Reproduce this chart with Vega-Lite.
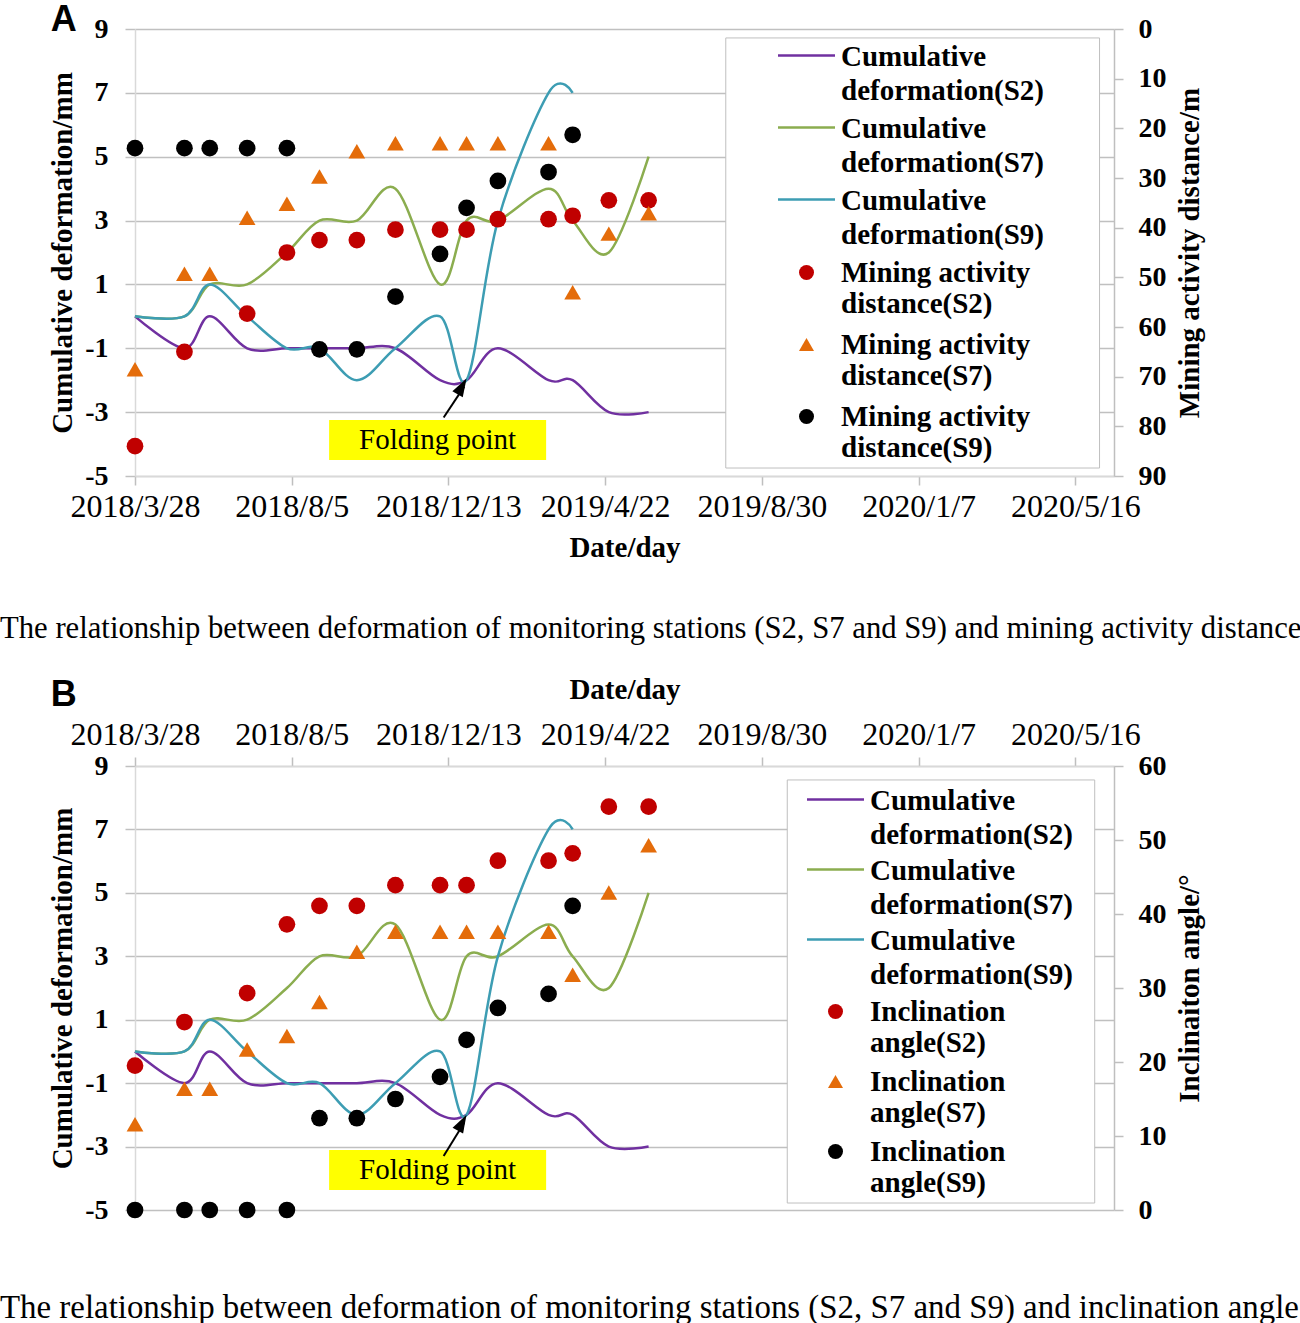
{
  "$schema": "https://vega.github.io/schema/vega-lite/v6.json",
  "padding": {"left": 0, "top": 1, "right": 0, "bottom": 0},
  "config": {"font": "Liberation Serif", "view": {"stroke": null}},
  "datasets": {
    "lines": [
      {"date": "2018/03/28", "series": "Cumulative deformation(S2)", "v": 0},
      {"date": "2018/05/08", "series": "Cumulative deformation(S2)", "v": -1},
      {"date": "2018/05/29", "series": "Cumulative deformation(S2)", "v": 0},
      {"date": "2018/06/29", "series": "Cumulative deformation(S2)", "v": -1},
      {"date": "2018/08/01", "series": "Cumulative deformation(S2)", "v": -1},
      {"date": "2018/08/28", "series": "Cumulative deformation(S2)", "v": -1},
      {"date": "2018/09/28", "series": "Cumulative deformation(S2)", "v": -1},
      {"date": "2018/10/30", "series": "Cumulative deformation(S2)", "v": -1},
      {"date": "2018/12/06", "series": "Cumulative deformation(S2)", "v": -2},
      {"date": "2018/12/28", "series": "Cumulative deformation(S2)", "v": -2},
      {"date": "2019/01/23", "series": "Cumulative deformation(S2)", "v": -1},
      {"date": "2019/03/06", "series": "Cumulative deformation(S2)", "v": -2},
      {"date": "2019/03/26", "series": "Cumulative deformation(S2)", "v": -2},
      {"date": "2019/04/25", "series": "Cumulative deformation(S2)", "v": -3},
      {"date": "2019/05/28", "series": "Cumulative deformation(S2)", "v": -3},
      {"date": "2018/03/28", "series": "Cumulative deformation(S7)", "v": 0},
      {"date": "2018/05/08", "series": "Cumulative deformation(S7)", "v": 0},
      {"date": "2018/05/29", "series": "Cumulative deformation(S7)", "v": 1},
      {"date": "2018/06/29", "series": "Cumulative deformation(S7)", "v": 1},
      {"date": "2018/08/01", "series": "Cumulative deformation(S7)", "v": 2},
      {"date": "2018/08/28", "series": "Cumulative deformation(S7)", "v": 3},
      {"date": "2018/09/28", "series": "Cumulative deformation(S7)", "v": 3},
      {"date": "2018/10/30", "series": "Cumulative deformation(S7)", "v": 4},
      {"date": "2018/12/06", "series": "Cumulative deformation(S7)", "v": 1},
      {"date": "2018/12/28", "series": "Cumulative deformation(S7)", "v": 3},
      {"date": "2019/01/23", "series": "Cumulative deformation(S7)", "v": 3},
      {"date": "2019/03/06", "series": "Cumulative deformation(S7)", "v": 4},
      {"date": "2019/03/26", "series": "Cumulative deformation(S7)", "v": 3},
      {"date": "2019/04/25", "series": "Cumulative deformation(S7)", "v": 2},
      {"date": "2019/05/28", "series": "Cumulative deformation(S7)", "v": 5},
      {"date": "2018/03/28", "series": "Cumulative deformation(S9)", "v": 0},
      {"date": "2018/05/08", "series": "Cumulative deformation(S9)", "v": 0},
      {"date": "2018/05/29", "series": "Cumulative deformation(S9)", "v": 1},
      {"date": "2018/06/29", "series": "Cumulative deformation(S9)", "v": 0},
      {"date": "2018/08/01", "series": "Cumulative deformation(S9)", "v": -1},
      {"date": "2018/08/28", "series": "Cumulative deformation(S9)", "v": -1},
      {"date": "2018/09/28", "series": "Cumulative deformation(S9)", "v": -2},
      {"date": "2018/10/30", "series": "Cumulative deformation(S9)", "v": -1},
      {"date": "2018/12/06", "series": "Cumulative deformation(S9)", "v": 0},
      {"date": "2018/12/28", "series": "Cumulative deformation(S9)", "v": -2},
      {"date": "2019/01/23", "series": "Cumulative deformation(S9)", "v": 3},
      {"date": "2019/03/06", "series": "Cumulative deformation(S9)", "v": 7},
      {"date": "2019/03/26", "series": "Cumulative deformation(S9)", "v": 7}
    ],
    "dist": [
      {"date": "2018/03/28", "series": "Mining activity distance(S2)", "d": 84},
      {"date": "2018/05/08", "series": "Mining activity distance(S2)", "d": 65},
      {"date": "2018/06/29", "series": "Mining activity distance(S2)", "d": 57.3},
      {"date": "2018/08/01", "series": "Mining activity distance(S2)", "d": 45},
      {"date": "2018/08/28", "series": "Mining activity distance(S2)", "d": 42.5},
      {"date": "2018/09/28", "series": "Mining activity distance(S2)", "d": 42.5},
      {"date": "2018/10/30", "series": "Mining activity distance(S2)", "d": 40.4},
      {"date": "2018/12/06", "series": "Mining activity distance(S2)", "d": 40.4},
      {"date": "2018/12/28", "series": "Mining activity distance(S2)", "d": 40.4},
      {"date": "2019/01/23", "series": "Mining activity distance(S2)", "d": 38.3},
      {"date": "2019/03/06", "series": "Mining activity distance(S2)", "d": 38.3},
      {"date": "2019/03/26", "series": "Mining activity distance(S2)", "d": 37.6},
      {"date": "2019/04/25", "series": "Mining activity distance(S2)", "d": 34.5},
      {"date": "2019/05/28", "series": "Mining activity distance(S2)", "d": 34.5},
      {"date": "2018/03/28", "series": "Mining activity distance(S7)", "d": 68.5},
      {"date": "2018/05/08", "series": "Mining activity distance(S7)", "d": 49.3},
      {"date": "2018/05/29", "series": "Mining activity distance(S7)", "d": 49.3},
      {"date": "2018/06/29", "series": "Mining activity distance(S7)", "d": 38},
      {"date": "2018/08/01", "series": "Mining activity distance(S7)", "d": 35.2},
      {"date": "2018/08/28", "series": "Mining activity distance(S7)", "d": 29.7},
      {"date": "2018/09/28", "series": "Mining activity distance(S7)", "d": 24.6},
      {"date": "2018/10/30", "series": "Mining activity distance(S7)", "d": 23},
      {"date": "2018/12/06", "series": "Mining activity distance(S7)", "d": 23},
      {"date": "2018/12/28", "series": "Mining activity distance(S7)", "d": 23},
      {"date": "2019/01/23", "series": "Mining activity distance(S7)", "d": 23},
      {"date": "2019/03/06", "series": "Mining activity distance(S7)", "d": 23},
      {"date": "2019/03/26", "series": "Mining activity distance(S7)", "d": 53},
      {"date": "2019/04/25", "series": "Mining activity distance(S7)", "d": 41.2},
      {"date": "2019/05/28", "series": "Mining activity distance(S7)", "d": 37.1},
      {"date": "2018/03/28", "series": "Mining activity distance(S9)", "d": 24},
      {"date": "2018/05/08", "series": "Mining activity distance(S9)", "d": 24},
      {"date": "2018/05/29", "series": "Mining activity distance(S9)", "d": 24},
      {"date": "2018/06/29", "series": "Mining activity distance(S9)", "d": 24},
      {"date": "2018/08/01", "series": "Mining activity distance(S9)", "d": 24},
      {"date": "2018/08/28", "series": "Mining activity distance(S9)", "d": 64.5},
      {"date": "2018/09/28", "series": "Mining activity distance(S9)", "d": 64.5},
      {"date": "2018/10/30", "series": "Mining activity distance(S9)", "d": 53.9},
      {"date": "2018/12/06", "series": "Mining activity distance(S9)", "d": 45.3},
      {"date": "2018/12/28", "series": "Mining activity distance(S9)", "d": 36},
      {"date": "2019/01/23", "series": "Mining activity distance(S9)", "d": 30.6},
      {"date": "2019/03/06", "series": "Mining activity distance(S9)", "d": 28.8},
      {"date": "2019/03/26", "series": "Mining activity distance(S9)", "d": 21.3}
    ],
    "angle": [
      {"date": "2018/03/28", "series": "Inclination angle(S2)", "a": 19.5},
      {"date": "2018/05/08", "series": "Inclination angle(S2)", "a": 25.4},
      {"date": "2018/06/29", "series": "Inclination angle(S2)", "a": 29.3},
      {"date": "2018/08/01", "series": "Inclination angle(S2)", "a": 38.6},
      {"date": "2018/08/28", "series": "Inclination angle(S2)", "a": 41.1},
      {"date": "2018/09/28", "series": "Inclination angle(S2)", "a": 41.1},
      {"date": "2018/10/30", "series": "Inclination angle(S2)", "a": 43.9},
      {"date": "2018/12/06", "series": "Inclination angle(S2)", "a": 43.9},
      {"date": "2018/12/28", "series": "Inclination angle(S2)", "a": 43.9},
      {"date": "2019/01/23", "series": "Inclination angle(S2)", "a": 47.2},
      {"date": "2019/03/06", "series": "Inclination angle(S2)", "a": 47.2},
      {"date": "2019/03/26", "series": "Inclination angle(S2)", "a": 48.2},
      {"date": "2019/04/25", "series": "Inclination angle(S2)", "a": 54.5},
      {"date": "2019/05/28", "series": "Inclination angle(S2)", "a": 54.5},
      {"date": "2018/03/28", "series": "Inclination angle(S7)", "a": 11.6},
      {"date": "2018/05/08", "series": "Inclination angle(S7)", "a": 16.4},
      {"date": "2018/05/29", "series": "Inclination angle(S7)", "a": 16.4},
      {"date": "2018/06/29", "series": "Inclination angle(S7)", "a": 21.7},
      {"date": "2018/08/01", "series": "Inclination angle(S7)", "a": 23.5},
      {"date": "2018/08/28", "series": "Inclination angle(S7)", "a": 28.1},
      {"date": "2018/09/28", "series": "Inclination angle(S7)", "a": 34.9},
      {"date": "2018/10/30", "series": "Inclination angle(S7)", "a": 37.6},
      {"date": "2018/12/06", "series": "Inclination angle(S7)", "a": 37.6},
      {"date": "2018/12/28", "series": "Inclination angle(S7)", "a": 37.6},
      {"date": "2019/01/23", "series": "Inclination angle(S7)", "a": 37.6},
      {"date": "2019/03/06", "series": "Inclination angle(S7)", "a": 37.6},
      {"date": "2019/03/26", "series": "Inclination angle(S7)", "a": 31.8},
      {"date": "2019/04/25", "series": "Inclination angle(S7)", "a": 42.9},
      {"date": "2019/05/28", "series": "Inclination angle(S7)", "a": 49.3},
      {"date": "2018/03/28", "series": "Inclination angle(S9)", "a": 0},
      {"date": "2018/05/08", "series": "Inclination angle(S9)", "a": 0},
      {"date": "2018/05/29", "series": "Inclination angle(S9)", "a": 0},
      {"date": "2018/06/29", "series": "Inclination angle(S9)", "a": 0},
      {"date": "2018/08/01", "series": "Inclination angle(S9)", "a": 0},
      {"date": "2018/08/28", "series": "Inclination angle(S9)", "a": 12.4},
      {"date": "2018/09/28", "series": "Inclination angle(S9)", "a": 12.4},
      {"date": "2018/10/30", "series": "Inclination angle(S9)", "a": 15.0},
      {"date": "2018/12/06", "series": "Inclination angle(S9)", "a": 18.0},
      {"date": "2018/12/28", "series": "Inclination angle(S9)", "a": 23.0},
      {"date": "2019/01/23", "series": "Inclination angle(S9)", "a": 27.3},
      {"date": "2019/03/06", "series": "Inclination angle(S9)", "a": 29.2},
      {"date": "2019/03/26", "series": "Inclination angle(S9)", "a": 41.1}
    ]
  },
  "spacing": 31,
  "resolve": {"scale": {"color": "independent", "fill": "independent", "shape": "independent"}, "legend": {"color": "independent", "fill": "independent", "shape": "independent"}},
  "vconcat": [
    {
      "width": 979,
      "height": 447,
      "title": {"text": "The relationship between deformation of monitoring stations (S2, S7 and S9) and mining activity distance", "orient": "bottom", "anchor": "start", "frame": "group", "baseline": "top", "offset": 52, "dx": -135, "font": "Liberation Serif", "fontSize": 30.7, "fontWeight": "normal", "color": "#000000"},
      "resolve": {"scale": {"y": "independent"}},
      "layer": [
        {
          "data": {"values": [{}]},
          "mark": {"type": "rect", "fill": "#FFFFFF", "stroke": "#BFBFBF", "strokeWidth": 1},
          "encoding": {
            "x": {"datum": {"year": 2019, "month": 7, "date": 31}, "type": "temporal"},
            "x2": {"datum": {"year": 2020, "month": 6, "date": 5}},
            "y": {"datum": 8.72, "type": "quantitative", "scale": {"domain": [-5, 9], "nice": false, "zero": false}, "axis": null},
            "y2": {"datum": -4.75}
          }
        },
        {
          "data": {"name": "lines"},
          "mark": {"type": "line", "interpolate": "cardinal", "strokeWidth": 2.5},
          "encoding": {
            "x": {"field": "date", "type": "temporal", "title": "Date/day",
              "scale": {"domain": [{"year": 2018, "month": 3, "date": 28}, {"year": 2020, "month": 6, "date": 17}], "nice": false},
              "axis": {"orient": "bottom", "values": [{"year": 2018, "month": 3, "date": 28}, {"year": 2018, "month": 8, "date": 5}, {"year": 2018, "month": 12, "date": 13}, {"year": 2019, "month": 4, "date": 22}, {"year": 2019, "month": 8, "date": 30}, {"year": 2020, "month": 1, "date": 7}, {"year": 2020, "month": 5, "date": 16}],
                "format": "%Y/%-m/%-d", "grid": false, "labelFont": "Liberation Serif", "labelFontSize": 32, "labelFontWeight": "normal", "labelColor": "#000000", "labelPadding": 6, "labelOverlap": false, "labelFlush": false,
                "tickSize": 9, "tickColor": "#BFBFBF", "tickWidth": 1.5, "domainColor": "#D9D9D9", "domainWidth": 1.5,
                "titleFont": "Liberation Serif", "titleFontSize": 29, "titleFontWeight": "bold", "titleColor": "#000000", "titlePadding": 11}},
            "y": {"field": "v", "type": "quantitative", "title": "Cumulative deformation/mm",
              "scale": {"domain": [-5, 9], "nice": false, "zero": false},
              "axis": {"orient": "left", "values": [-5, -3, -1, 1, 3, 5, 7, 9], "labelExpr": "'' + datum.value", "grid": true, "gridColor": "#C0C0C0", "gridWidth": 1.5,
                "domainColor": "#D9D9D9", "domainWidth": 1.5, "tickColor": "#C0C0C0", "tickSize": 10, "tickWidth": 1.5,
                "labelFont": "Liberation Serif", "labelFontWeight": "bold", "labelFontSize": 28, "labelColor": "#000000", "labelPadding": 17,
                "titleFont": "Liberation Serif", "titleFontWeight": "bold", "titleFontSize": 29, "titleColor": "#000000", "titlePadding": 7}},
            "color": {"field": "series", "type": "nominal",
              "scale": {"domain": ["Cumulative deformation(S2)", "Cumulative deformation(S7)", "Cumulative deformation(S9)"], "range": ["#7030A0", "#8BAD4F", "#3D9DB3"]},
              "legend": {"title": null, "orient": "none", "legendX": 657, "legendY": 12, "padding": 0, "symbolType": "M-3,0L3,0", "symbolSize": 361, "symbolStrokeWidth": 2.5,
                "labelFont": "Liberation Serif", "labelFontWeight": "bold", "labelFontSize": 29, "labelColor": "#000000", "labelLimit": 600, "labelOffset": 20, "labelBaseline": "top", "rowPadding": 7,
                "labelExpr": "[substring(datum.label,0,lastindexof(datum.label,' ')), substring(datum.label,lastindexof(datum.label,' ')+1)]",
                "encode": {"labels": {"update": {"dy": {"value": -13}, "lineHeight": {"value": 34}}}}}}
          }
        },
        {
          "data": {"name": "dist"},
          "mark": {"type": "point", "filled": true, "opacity": 1, "size": 280},
          "encoding": {
            "x": {"field": "date", "type": "temporal"},
            "y": {"field": "d", "type": "quantitative", "title": "Mining activity distance/m",
              "scale": {"domain": [0, 90], "reverse": true, "nice": false, "zero": false},
              "axis": {"orient": "right", "values": [0, 10, 20, 30, 40, 50, 60, 70, 80, 90], "grid": false,
                "domainColor": "#BFBFBF", "domainWidth": 1.5, "tickColor": "#BFBFBF", "tickSize": 9, "tickWidth": 1.5,
                "labelFont": "Liberation Serif", "labelFontWeight": "bold", "labelFontSize": 28, "labelColor": "#000000", "labelPadding": 15,
                "titleFont": "Liberation Serif", "titleFontWeight": "bold", "titleFontSize": 29, "titleColor": "#000000", "titlePadding": 9, "titleAngle": 270, "titleBaseline": "top"}},
            "fill": {"field": "series", "type": "nominal",
              "scale": {"domain": ["Mining activity distance(S2)", "Mining activity distance(S7)", "Mining activity distance(S9)"], "range": ["#C00000", "#E46C0A", "#000000"]},
              "legend": {"title": null, "orient": "none", "legendX": 657, "legendY": 229, "padding": 0, "symbolSize": 225,
                "labelFont": "Liberation Serif", "labelFontWeight": "bold", "labelFontSize": 29, "labelColor": "#000000", "labelLimit": 600, "labelOffset": 20, "labelBaseline": "middle", "rowPadding": 11,
                "labelExpr": "[substring(datum.label,0,lastindexof(datum.label,' ')), substring(datum.label,lastindexof(datum.label,' ')+1)]"}},
            "shape": {"field": "series", "type": "nominal",
              "scale": {"domain": ["Mining activity distance(S2)", "Mining activity distance(S7)", "Mining activity distance(S9)"], "range": ["circle", "triangle-up", "circle"]},
              "legend": {"title": null, "orient": "none", "legendX": 657, "legendY": 229, "padding": 0, "symbolSize": 225,
                "labelFont": "Liberation Serif", "labelFontWeight": "bold", "labelFontSize": 29, "labelColor": "#000000", "labelLimit": 600, "labelOffset": 20, "labelBaseline": "middle", "rowPadding": 11,
                "labelExpr": "[substring(datum.label,0,lastindexof(datum.label,' ')), substring(datum.label,lastindexof(datum.label,' ')+1)]"}}
          }
        },
        {
          "data": {"values": [{}]},
          "mark": {"type": "rect", "fill": "#FFFF00"},
          "encoding": {
            "x": {"datum": {"year": 2018, "month": 9, "date": 5}, "type": "temporal"},
            "x2": {"datum": {"year": 2019, "month": 3, "date": 4}},
            "y": {"datum": -3.245, "type": "quantitative", "scale": {"domain": [-5, 9], "nice": false, "zero": false}, "axis": null},
            "y2": {"datum": -4.498}
          }
        },
        {
          "data": {"values": [{}]},
          "mark": {"type": "text", "text": "Folding point", "font": "Liberation Serif", "fontSize": 29, "color": "#000000", "align": "center", "baseline": "middle"},
          "encoding": {
            "x": {"datum": {"year": 2018, "month": 12, "date": 4}, "type": "temporal"},
            "y": {"datum": -3.87, "type": "quantitative", "scale": {"domain": [-5, 9], "nice": false, "zero": false}, "axis": null}
          }
        },
        {
          "data": {"values": [{}]},
          "mark": {"type": "rule", "color": "#000000", "strokeWidth": 2},
          "encoding": {
            "x": {"datum": {"year": 2018, "month": 12, "date": 9}, "type": "temporal"},
            "x2": {"datum": {"year": 2018, "month": 12, "date": 26}},
            "y": {"datum": -3.17, "type": "quantitative", "scale": {"domain": [-5, 9], "nice": false, "zero": false}, "axis": null},
            "y2": {"datum": -2.2}
          }
        },
        {
          "data": {"values": [{}]},
          "mark": {"type": "point", "shape": "M0,0L-0.6,1.8L0.6,1.8Z", "size": 400, "angle": 30, "filled": true, "color": "#000000", "opacity": 1},
          "encoding": {
            "x": {"datum": {"year": 2018, "month": 12, "date": 28}, "type": "temporal"},
            "y": {"datum": -1.95, "type": "quantitative", "scale": {"domain": [-5, 9], "nice": false, "zero": false}, "axis": null}
          }
        },
        {
          "data": {"values": [{}]},
          "mark": {"type": "text", "text": "A", "font": "Liberation Sans", "fontWeight": "bold", "fontSize": 36, "color": "#000000", "align": "center", "baseline": "alphabetic"},
          "encoding": {
            "x": {"datum": {"year": 2018, "month": 1, "date": 28}, "type": "temporal"},
            "y": {"datum": 8.95, "type": "quantitative", "scale": {"domain": [-5, 9], "nice": false, "zero": false}, "axis": null}
          }
        }
      ]
    },
    {
      "width": 979,
      "height": 444,
      "title": {"text": "The relationship between deformation of monitoring stations (S2, S7 and S9) and inclination angle", "orient": "bottom", "anchor": "start", "frame": "group", "baseline": "top", "offset": 68, "dx": -135, "font": "Liberation Serif", "fontSize": 32.9, "fontWeight": "normal", "color": "#000000"},
      "resolve": {"scale": {"y": "independent"}},
      "layer": [
        {
          "data": {"values": [{}]},
          "mark": {"type": "rect", "fill": "#FFFFFF", "stroke": "#BFBFBF", "strokeWidth": 1},
          "encoding": {
            "x": {"datum": {"year": 2019, "month": 9, "date": 20}, "type": "temporal"},
            "x2": {"datum": {"year": 2020, "month": 6, "date": 1}},
            "y": {"datum": 8.56, "type": "quantitative", "scale": {"domain": [-5, 9], "nice": false, "zero": false}, "axis": null},
            "y2": {"datum": -4.78}
          }
        },
        {
          "data": {"name": "lines"},
          "mark": {"type": "line", "interpolate": "cardinal", "strokeWidth": 2.5},
          "encoding": {
            "x": {"field": "date", "type": "temporal", "title": "Date/day",
              "scale": {"domain": [{"year": 2018, "month": 3, "date": 28}, {"year": 2020, "month": 6, "date": 17}], "nice": false},
              "axis": {"orient": "top", "values": [{"year": 2018, "month": 3, "date": 28}, {"year": 2018, "month": 8, "date": 5}, {"year": 2018, "month": 12, "date": 13}, {"year": 2019, "month": 4, "date": 22}, {"year": 2019, "month": 8, "date": 30}, {"year": 2020, "month": 1, "date": 7}, {"year": 2020, "month": 5, "date": 16}],
                "format": "%Y/%-m/%-d", "grid": false, "labelFont": "Liberation Serif", "labelFontSize": 32, "labelFontWeight": "normal", "labelColor": "#000000", "labelPadding": 6, "labelOverlap": false, "labelFlush": false,
                "tickSize": 9, "tickColor": "#BFBFBF", "tickWidth": 1.5, "domainColor": "#D9D9D9", "domainWidth": 1.5,
                "titleFont": "Liberation Serif", "titleFontSize": 29, "titleFontWeight": "bold", "titleColor": "#000000", "titlePadding": 14}},
            "y": {"field": "v", "type": "quantitative", "title": "Cumulative deformation/mm",
              "scale": {"domain": [-5, 9], "nice": false, "zero": false},
              "axis": {"orient": "left", "values": [-5, -3, -1, 1, 3, 5, 7, 9], "labelExpr": "'' + datum.value", "grid": true, "gridColor": "#C0C0C0", "gridWidth": 1.5,
                "domainColor": "#D9D9D9", "domainWidth": 1.5, "tickColor": "#C0C0C0", "tickSize": 10, "tickWidth": 1.5,
                "labelFont": "Liberation Serif", "labelFontWeight": "bold", "labelFontSize": 28, "labelColor": "#000000", "labelPadding": 17,
                "titleFont": "Liberation Serif", "titleFontWeight": "bold", "titleFontSize": 29, "titleColor": "#000000", "titlePadding": 7}},
            "color": {"field": "series", "type": "nominal",
              "scale": {"domain": ["Cumulative deformation(S2)", "Cumulative deformation(S7)", "Cumulative deformation(S9)"], "range": ["#7030A0", "#8BAD4F", "#3D9DB3"]},
              "legend": {"title": null, "orient": "none", "legendX": 686, "legendY": 19, "padding": 0, "symbolType": "M-3,0L3,0", "symbolSize": 361, "symbolStrokeWidth": 2.5,
                "labelFont": "Liberation Serif", "labelFontWeight": "bold", "labelFontSize": 29, "labelColor": "#000000", "labelLimit": 600, "labelOffset": 20, "labelBaseline": "top", "rowPadding": 5,
                "labelExpr": "[substring(datum.label,0,lastindexof(datum.label,' ')), substring(datum.label,lastindexof(datum.label,' ')+1)]",
                "encode": {"labels": {"update": {"dy": {"value": -13}, "lineHeight": {"value": 34}}}}}}
          }
        },
        {
          "data": {"name": "angle"},
          "mark": {"type": "point", "filled": true, "opacity": 1, "size": 280},
          "encoding": {
            "x": {"field": "date", "type": "temporal"},
            "y": {"field": "a", "type": "quantitative", "title": "Inclinaiton angle/°",
              "scale": {"domain": [0, 60], "nice": false, "zero": false},
              "axis": {"orient": "right", "values": [0, 10, 20, 30, 40, 50, 60], "grid": false,
                "domainColor": "#BFBFBF", "domainWidth": 1.5, "tickColor": "#BFBFBF", "tickSize": 9, "tickWidth": 1.5,
                "labelFont": "Liberation Serif", "labelFontWeight": "bold", "labelFontSize": 28, "labelColor": "#000000", "labelPadding": 15,
                "titleFont": "Liberation Serif", "titleFontWeight": "bold", "titleFontSize": 29, "titleColor": "#000000", "titlePadding": 9, "titleAngle": 270, "titleBaseline": "top"}},
            "fill": {"field": "series", "type": "nominal",
              "scale": {"domain": ["Inclination angle(S2)", "Inclination angle(S7)", "Inclination angle(S9)"], "range": ["#C00000", "#E46C0A", "#000000"]},
              "legend": {"title": null, "orient": "none", "legendX": 686, "legendY": 231, "padding": 0, "symbolSize": 225,
                "labelFont": "Liberation Serif", "labelFontWeight": "bold", "labelFontSize": 29, "labelColor": "#000000", "labelLimit": 600, "labelOffset": 20, "labelBaseline": "middle", "rowPadding": 9,
                "labelExpr": "[substring(datum.label,0,lastindexof(datum.label,' ')), substring(datum.label,lastindexof(datum.label,' ')+1)]"}},
            "shape": {"field": "series", "type": "nominal",
              "scale": {"domain": ["Inclination angle(S2)", "Inclination angle(S7)", "Inclination angle(S9)"], "range": ["circle", "triangle-up", "circle"]},
              "legend": {"title": null, "orient": "none", "legendX": 686, "legendY": 231, "padding": 0, "symbolSize": 225,
                "labelFont": "Liberation Serif", "labelFontWeight": "bold", "labelFontSize": 29, "labelColor": "#000000", "labelLimit": 600, "labelOffset": 20, "labelBaseline": "middle", "rowPadding": 9,
                "labelExpr": "[substring(datum.label,0,lastindexof(datum.label,' ')), substring(datum.label,lastindexof(datum.label,' ')+1)]"}}
          }
        },
        {
          "data": {"values": [{}]},
          "mark": {"type": "rect", "fill": "#FFFF00"},
          "encoding": {
            "x": {"datum": {"year": 2018, "month": 9, "date": 5}, "type": "temporal"},
            "x2": {"datum": {"year": 2019, "month": 3, "date": 4}},
            "y": {"datum": -3.11, "type": "quantitative", "scale": {"domain": [-5, 9], "nice": false, "zero": false}, "axis": null},
            "y2": {"datum": -4.37}
          }
        },
        {
          "data": {"values": [{}]},
          "mark": {"type": "text", "text": "Folding point", "font": "Liberation Serif", "fontSize": 29, "color": "#000000", "align": "center", "baseline": "middle"},
          "encoding": {
            "x": {"datum": {"year": 2018, "month": 12, "date": 4}, "type": "temporal"},
            "y": {"datum": -3.74, "type": "quantitative", "scale": {"domain": [-5, 9], "nice": false, "zero": false}, "axis": null}
          }
        },
        {
          "data": {"values": [{}]},
          "mark": {"type": "rule", "color": "#000000", "strokeWidth": 2},
          "encoding": {
            "x": {"datum": {"year": 2018, "month": 12, "date": 9}, "type": "temporal"},
            "x2": {"datum": {"year": 2018, "month": 12, "date": 26}},
            "y": {"datum": -3.3, "type": "quantitative", "scale": {"domain": [-5, 9], "nice": false, "zero": false}, "axis": null},
            "y2": {"datum": -2.25}
          }
        },
        {
          "data": {"values": [{}]},
          "mark": {"type": "point", "shape": "M0,0L-0.6,1.8L0.6,1.8Z", "size": 400, "angle": 29, "filled": true, "color": "#000000", "opacity": 1},
          "encoding": {
            "x": {"datum": {"year": 2018, "month": 12, "date": 28}, "type": "temporal"},
            "y": {"datum": -2.0, "type": "quantitative", "scale": {"domain": [-5, 9], "nice": false, "zero": false}, "axis": null}
          }
        },
        {
          "data": {"values": [{}]},
          "mark": {"type": "text", "text": "B", "font": "Liberation Sans", "fontWeight": "bold", "fontSize": 36, "color": "#000000", "align": "center", "baseline": "alphabetic"},
          "encoding": {
            "x": {"datum": {"year": 2018, "month": 1, "date": 28}, "type": "temporal"},
            "y": {"datum": 10.89, "type": "quantitative", "scale": {"domain": [-5, 9], "nice": false, "zero": false}, "axis": null}
          }
        }
      ]
    }
  ]
}
